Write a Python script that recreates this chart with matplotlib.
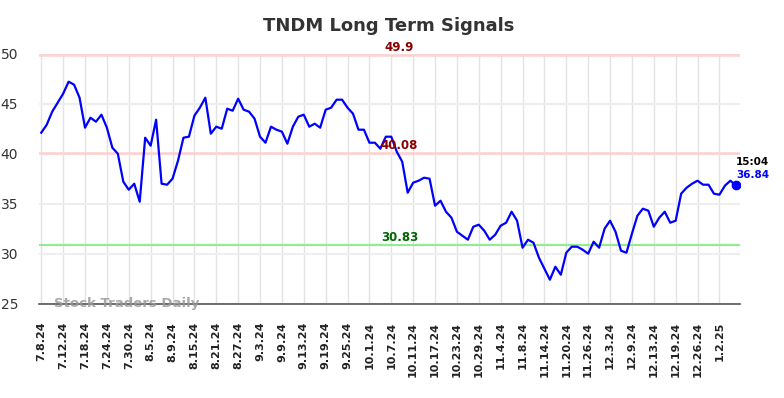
import matplotlib
matplotlib.use("Agg")
import matplotlib.pyplot as plt

ticker = "TNDM"
last_time = "15:04"

# signal levels
resistance = 49.9
middle = 40.08
support = 30.83

prices = [
    42.1, 42.9, 44.2, 45.1, 46.0, 47.2, 46.9, 45.6, 42.6, 43.6,
    43.2, 43.9, 42.6, 40.6, 40.0, 37.2, 36.4, 37.0, 35.2, 41.6,
    40.8, 43.4, 37.0, 36.9, 37.5, 39.3, 41.6, 41.7, 43.8, 44.6,
    45.6, 42.0, 42.7, 42.5, 44.5, 44.3, 45.5, 44.4, 44.2, 43.5,
    41.7, 41.1, 42.7, 42.4, 42.2, 41.0, 42.7, 43.7, 43.9, 42.7,
    43.0, 42.6, 44.4, 44.6, 45.4, 45.4, 44.6, 44.0, 42.4, 42.4,
    41.1, 41.1, 40.5, 41.7, 41.7, 40.2, 39.2, 36.1, 37.1, 37.3,
    37.6, 37.5, 34.8, 35.3, 34.2, 33.6, 32.2, 31.8, 31.4, 32.7,
    32.9, 32.3, 31.4, 31.9, 32.8, 33.1, 34.2, 33.3, 30.6, 31.4,
    31.1, 29.6, 28.5, 27.4, 28.7, 27.9, 30.1, 30.7, 30.7, 30.4,
    30.0, 31.2, 30.6, 32.5, 33.3, 32.2, 30.3, 30.1, 32.0, 33.8,
    34.5, 34.3, 32.7, 33.6, 34.2, 33.1, 33.3, 36.0, 36.6, 37.0,
    37.3, 36.9, 36.9, 36.0, 35.9, 36.8, 37.3, 36.84,
]

# one label every 4 trading days
tick_labels = [
    "7.8.24", "7.12.24", "7.18.24", "7.24.24", "7.30.24", "8.5.24",
    "8.9.24", "8.15.24", "8.21.24", "8.27.24", "9.3.24", "9.9.24",
    "9.13.24", "9.19.24", "9.25.24", "10.1.24", "10.7.24", "10.11.24",
    "10.17.24", "10.23.24", "10.29.24", "11.4.24", "11.8.24", "11.14.24",
    "11.20.24", "11.26.24", "12.3.24", "12.9.24", "12.13.24", "12.19.24",
    "12.26.24", "1.2.25",
]
tick_step = 4


def make_chart(output_file):
    fig = plt.figure(figsize=(7.84, 3.98), dpi=100)
    ax = fig.add_axes([0.0497, 0.2369, 0.8941, 0.6282])

    x = list(range(len(prices)))
    ticks = [i * tick_step for i in range(len(tick_labels))]

    ax.set_xlim(-0.42, len(prices) - 0.25)
    ax.set_ylim(25, 50)

    for t in ticks:
        ax.axvline(t, color="#e3e3e3", lw=1, zorder=0)
    for v in [25, 30, 35, 40, 45, 50]:
        ax.axhline(v, color="#eeeeee", lw=1.5, zorder=0)

    ax.axhline(resistance, color="#ffd0d0", lw=1.8, zorder=1)
    ax.axhline(middle, color="#ffd0d0", lw=1.8, zorder=1)
    ax.axhline(support, color="#90ee90", lw=1.5, zorder=1)

    ax.plot(x, prices, color="#0000ff", lw=1.6, zorder=3)
    ax.plot(x[-1], prices[-1], "o", color="#0000ff", ms=6, zorder=4)

    mid = 65.5
    ax.text(mid, resistance + 0.1, f"{resistance}", color="#8b0000",
            fontsize=8.5, fontweight="bold", ha="center", va="bottom")
    ax.text(mid, middle + 0.1, f"{middle}", color="#8b0000",
            fontsize=8.5, fontweight="bold", ha="center", va="bottom")
    ax.text(mid, support + 0.15, f"{support}", color="#006400",
            fontsize=8.5, fontweight="bold", ha="center", va="bottom")

    ax.annotate(last_time, (x[-1], prices[-1]), xytext=(0, 23),
                textcoords="offset pixels", fontsize=7.5, fontweight="bold",
                color="black", ha="left", va="center")
    ax.annotate(f"{prices[-1]}", (x[-1], prices[-1]), xytext=(0, 10),
                textcoords="offset pixels", fontsize=7.5, fontweight="bold",
                color="#0000ff", ha="left", va="center")

    ax.text(2.3, 25.05, "Stock Traders Daily", color="#999999", alpha=0.85,
            fontsize=9.5, fontweight="bold", ha="left", va="center", zorder=5)

    ax.set_xticks(ticks)
    ax.set_xticklabels(tick_labels, rotation=90, fontsize=8,
                       fontweight="bold", color="#222222")
    ax.set_yticks([25, 30, 35, 40, 45, 50])
    ax.tick_params(axis="y", length=0, pad=15, labelsize=10,
                   labelcolor="#333333")
    ax.tick_params(axis="x", length=0, pad=13)

    for side in ["top", "right", "left"]:
        ax.spines[side].set_visible(False)
    ax.spines["bottom"].set_color("#555555")
    ax.spines["bottom"].set_linewidth(1.2)

    fig.text(0.496, 0.935, f"{ticker} Long Term Signals", fontsize=13,
             fontweight="bold", color="#333333", ha="center", va="center")

    fig.savefig(output_file, dpi=100)


def main():
    make_chart("out.png")


if __name__ == "__main__":
    main()
